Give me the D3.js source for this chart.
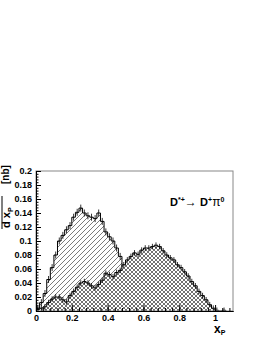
<!DOCTYPE html>
<html>
<head>
<meta charset="utf-8">
<script src="https://cdn.jsdelivr.net/npm/d3@7"></script>
<style>
body { margin: 0; background: #fff; }
svg text { font-family: "Liberation Sans", Arial, Helvetica, sans-serif; font-weight: bold; }
</style>
</head>
<body>
<svg id="chart" width="262" height="339"></svg>
<script>
// bin lower edges, width 0.02
var binEdges = [0, 0.02, 0.04, 0.06, 0.08, 0.1, 0.12, 0.14, 0.16, 0.18, 0.2, 0.22, 0.24, 0.26, 0.28,
    0.3, 0.32, 0.34, 0.36, 0.38, 0.4, 0.42, 0.44, 0.46, 0.48, 0.5, 0.52, 0.54, 0.56, 0.58,
    0.6, 0.62, 0.64, 0.66, 0.68, 0.7, 0.72, 0.74, 0.76, 0.78, 0.8, 0.82, 0.84, 0.86, 0.88,
    0.9, 0.92, 0.94, 0.96, 0.98, 1.0, 1.02, 1.04]
var binWidth = 0.02

// D*+ from B decays (single hatch)
var bDecay = [0.004, 0.012, 0.025, 0.045, 0.062, 0.08, 0.1, 0.108, 0.116, 0.122, 0.134, 0.141, 0.147, 0.14,
    0.136, 0.134, 0.132, 0.14, 0.128, 0.113, 0.106, 0.1, 0.09, 0.078, 0.062, 0.045, 0.025, 0.008]
var bDecayErr = 0.005

// continuum (cross hatch)
var continuum = [0.002, 0.004, 0.006, 0.012, 0.017, 0.02, 0.02, 0.016, 0.013, 0.022, 0.028, 0.034, 0.04,
    0.042, 0.04, 0.036, 0.033, 0.038, 0.044, 0.054, 0.052, 0.049, 0.055, 0.058, 0.066, 0.073, 0.078,
    0.083, 0.081, 0.087, 0.09, 0.09, 0.092, 0.094, 0.092, 0.086, 0.08, 0.076, 0.073, 0.066, 0.062,
    0.056, 0.05, 0.042, 0.036, 0.028, 0.022, 0.016, 0.009, 0.004, 0.001, 0, 0.001]
var continuumErr = 0.004

var yTicks = [0, 0.02, 0.04, 0.06, 0.08, 0.1, 0.12, 0.14, 0.16, 0.18, 0.2]
var yTickLabels = ["0", "0.02", "0.04", "0.06", "0.08", "0.1", "0.12", "0.14", "0.16", "0.18", "0.2"]
var xTicks = [0, 0.2, 0.4, 0.6, 0.8, 1]
var xTickLabels = ["0", "0.2", "0.4", "0.6", "0.8", "1"]

var frame = { left: 36, right: 233, top: 171, bottom: 311 }

var svg = d3.select("#chart")

var x = d3.scaleLinear().domain([0, 1.1]).range([frame.left, frame.right])
var y = d3.scaleLinear().domain([0, 0.2]).range([frame.bottom, frame.top])

// hatch patterns
var defs = svg.append("defs")
var p1 = defs.append("pattern")
    .attr("id", "hatch")
    .attr("patternUnits", "userSpaceOnUse")
    .attr("width", 5).attr("height", 5)
p1.append("path")
    .attr("d", "M-1,6 L6,-1 M-1,1 L1,-1 M4,6 L6,4")
    .attr("stroke", "#222").attr("stroke-width", 0.6)

var p2 = defs.append("pattern")
    .attr("id", "cross")
    .attr("patternUnits", "userSpaceOnUse")
    .attr("width", 4).attr("height", 4)
p2.append("rect").attr("width", 4).attr("height", 4).attr("fill", "#fff")
p2.append("path")
    .attr("d", "M0,0 L4,4 M4,0 L0,4")
    .attr("stroke", "#333").attr("stroke-width", 0.7)

defs.append("clipPath").attr("id", "clip")
    .append("rect")
    .attr("x", frame.left).attr("y", frame.top)
    .attr("width", frame.right - frame.left).attr("height", frame.bottom - frame.top)

function stepPoints(values) {
    var pts = [[binEdges[0], 0]]
    values.forEach(function (v, i) {
        pts.push([binEdges[i], v])
        pts.push([binEdges[i] + binWidth, v])
    })
    pts.push([binEdges[values.length - 1] + binWidth, 0])
    return pts
}

var line = d3.line()
    .x(function (d) { return x(d[0]) })
    .y(function (d) { return y(d[1]) })

var plot = svg.append("g").attr("clip-path", "url(#clip)")

// filled step histogram with outline and error bars
function drawHist(values, err, fill) {
    var pts = stepPoints(values)
    plot.append("path")
        .datum(pts)
        .attr("d", line)
        .attr("fill", fill)
        .attr("stroke", "#000")
        .attr("stroke-width", 1)
    values.forEach(function (v, i) {
        if (v <= 0) return
        var cx = x(binEdges[i] + binWidth / 2)
        plot.append("line")
            .attr("x1", cx).attr("x2", cx)
            .attr("y1", y(Math.max(0, v - err))).attr("y2", y(v + err))
            .attr("stroke", "#000").attr("stroke-width", 0.8)
    })
}

drawHist(bDecay, bDecayErr, "url(#hatch)")
drawHist(continuum, continuumErr, "url(#cross)")

// frame
svg.append("rect")
    .attr("x", frame.left).attr("y", frame.top)
    .attr("width", frame.right - frame.left).attr("height", frame.bottom - frame.top)
    .attr("fill", "none").attr("stroke", "#888").attr("stroke-width", 1)

// y axis
svg.append("g")
    .attr("transform", "translate(" + frame.left + ",0)")
    .call(d3.axisLeft(y).tickValues(yTicks)
        .tickFormat(function (d, i) { return yTickLabels[i] })
        .tickSizeInner(-5).tickSizeOuter(0).tickPadding(4))
svg.append("g")
    .attr("transform", "translate(" + frame.left + ",0)")
    .call(d3.axisLeft(y).tickValues(d3.range(0, 0.2001, 0.004))
        .tickFormat("").tickSizeInner(-2.5).tickSizeOuter(0))

// x axis
svg.append("g")
    .attr("transform", "translate(0," + frame.bottom + ")")
    .call(d3.axisBottom(x).tickValues(xTicks)
        .tickFormat(function (d, i) { return xTickLabels[i] })
        .tickSizeInner(-6).tickSizeOuter(0).tickPadding(4))
svg.append("g")
    .attr("transform", "translate(0," + frame.bottom + ")")
    .call(d3.axisBottom(x).tickValues(d3.range(0, 1.1, 0.04))
        .tickFormat("").tickSizeInner(-3).tickSizeOuter(0))

svg.selectAll(".domain").attr("stroke", "#000")
svg.selectAll(".tick line").attr("stroke", "#000")
svg.selectAll(".tick text")
    .attr("font-size", 9).attr("fill", "#000")
    .attr("font-family", "Liberation Sans, Arial, sans-serif")

// x axis title
var xt = svg.append("text").attr("x", 214).attr("y", 333).attr("font-size", 12)
xt.append("tspan").text("x")
xt.append("tspan").attr("font-size", 7).attr("dy", 2).text("P")

// y axis title (fraction, partly off page)
var yt = svg.append("g").attr("transform", "translate(10,0) rotate(-90)")
yt.append("text").attr("x", -228).attr("y", 0).attr("font-size", 11)
    .call(function (t) {
        t.append("tspan").text("d x")
        t.append("tspan").attr("font-size", 7).attr("dy", 3).text("P")
    })
yt.append("text").attr("x", -226).attr("y", -13).attr("font-size", 11).text("d\u03c3")
yt.append("line").attr("x1", -229).attr("x2", -196).attr("y1", -8).attr("y2", -8)
    .attr("stroke", "#000").attr("stroke-width", 1)
yt.append("text").attr("x", -184).attr("y", -1).attr("font-size", 10).text("[nb]")

// legend label
var lg = svg.append("text").attr("x", 170).attr("y", 206).attr("font-size", 11)
lg.append("tspan").text("D")
lg.append("tspan").attr("font-size", 7).attr("dy", -4).text("*+")
lg.append("tspan").attr("dy", 4).attr("font-weight", "normal").attr("font-size", 12).text("\u2192 ")
lg.append("tspan").text("D")
lg.append("tspan").attr("font-size", 7).attr("dy", -4).text("+")
lg.append("tspan").attr("dy", 4).attr("font-weight", "normal").attr("font-size", 12).text("\u03c0")
lg.append("tspan").attr("font-size", 7).attr("dy", -4).text("0")
</script>
</body>
</html>
